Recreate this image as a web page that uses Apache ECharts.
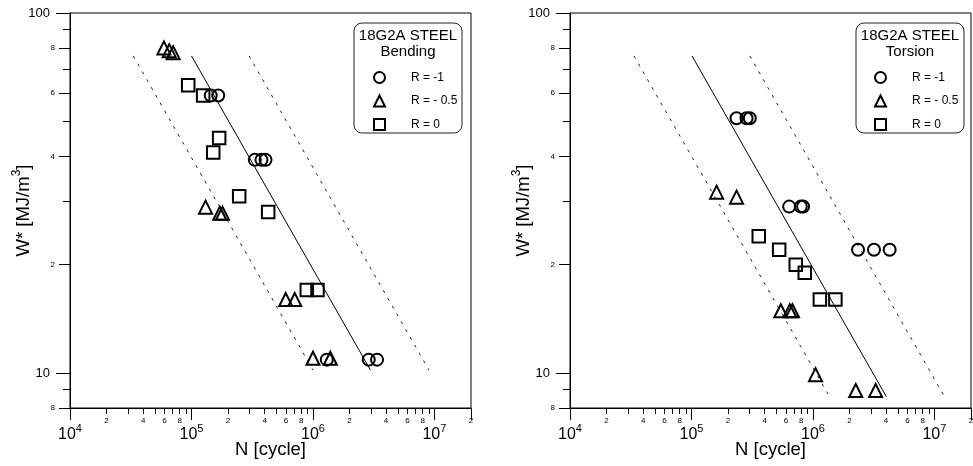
<!DOCTYPE html>
<html><head><meta charset="utf-8">
<script src="https://cdn.jsdelivr.net/npm/echarts@6/dist/echarts.min.js"></script>
<style>html,body{margin:0;padding:0;background:#fff}#c{width:973px;height:466px}</style>
</head><body><div id="c"></div>
<script>
// ---- axis tick / label values ----
const xMajorTicks = [1e4, 1e5, 1e6, 1e7, 2e7];
const xMajorLabels = [1e4, 1e5, 1e6, 1e7];
const xMinorTicks = [2e4,3e4,4e4,5e4,6e4,7e4,8e4,9e4, 2e5,3e5,4e5,5e5,6e5,7e5,8e5,9e5, 2e6,3e6,4e6,5e6,6e6,7e6,8e6,9e6];
const xMinorLabels = [2e4,4e4,6e4,8e4, 2e5,4e5,6e5,8e5, 2e6,4e6,6e6,8e6, 2e7];
const yMajorTicks = [10, 100];
const yMinorLabeled = [8, 20, 40, 60, 80];
const yMinorPlain = [9, 30, 50, 70, 90];

const seriesNames = ['R = -1', 'R = - 0.5', 'R = 0'];

// ---- Bending data [N, W*] ----
const bendR1 = [[144000,59],[166000,59],[332000,39.1],[377000,39.1],[407000,39.1],[1.30e6,10.9],[2.88e6,10.9],[3.37e6,10.9]];
const bendR05 = [[59300,80],[65600,78.6],[70700,77.6],[130600,28.9],[171000,27.8],[180000,27.8],[597000,16.0],[708000,16.0],[1.0e6,11.0],[1.39e6,11.0]];
const bendR0 = [[94000,63],[124800,59],[169000,45],[151000,41],[247000,31],[428000,28],[890000,17],[1090000,17]];
const bendFit = [[1.0e5,76],[2.97e6,10.2]];
const bendLow = [[33200,76],[1.0e6,10.2]];
const bendHigh = [[298000,76],[9.0e6,10.2]];

// ---- Torsion data [N, W*] ----
const torR1 = [[235000,51],[284000,51],[302000,51],[637000,29],[794000,29],[830000,29],[2.35e6,22],[3.18e6,22],[4.28e6,22]];
const torR05 = [[161000,31.8],[235000,30.8],[544000,14.9],[645000,14.9],[678000,14.9],[1.05e6,9.9],[2.25e6,8.95],[3.28e6,8.95]];
const torR0 = [[358000,24],[527000,22],[722000,20],[856000,19],[1.14e6,16],[1.53e6,16]];
const torFit = [[1.01e5,76],[4.02e6,8.6]];
const torLow = [[33600,76],[1.33e6,8.75]];
const torHigh = [[302000,76],[1.21e7,8.6]];

const FF = "'Liberation Sans', Arial, sans-serif";
const lead = v => String(Math.round(v / Math.pow(10, Math.floor(Math.log10(v) + 1e-9))));

function xAxesFor(gi) {
  return [
    { type:'log', logBase:10, gridIndex:gi, min:1e4, max:2e7, position:'bottom',
      axisLine:{show:true, onZero:false, lineStyle:{color:'#000', width:1}},
      axisTick:{show:true, length:12, customValues:xMajorTicks, lineStyle:{color:'#000', width:1}},
      axisLabel:{show:true, customValues:xMajorLabels, margin:15,
        formatter: v => '{b|10}{s|' + Math.round(Math.log10(v)) + '}',
        rich:{ b:{fontSize:16, lineHeight:20, verticalAlign:'bottom', fontFamily:FF, color:'#000'},
               s:{fontSize:11, verticalAlign:'top', fontFamily:FF, color:'#000'} } },
      splitLine:{show:false}, minorTick:{show:false},
      name:'N [cycle]', nameLocation:'middle', nameGap:32, nameMoveOverlap:false,
      nameTextStyle:{fontSize:18.5, color:'#000', fontFamily:FF} },
    { type:'log', logBase:10, gridIndex:gi, min:1e4, max:2e7, position:'bottom',
      axisLine:{show:false, onZero:false},
      axisTick:{show:true, length:6, customValues:xMinorTicks, lineStyle:{color:'#000', width:1}},
      axisLabel:{show:true, customValues:xMinorLabels, margin:9, fontSize:8, color:'#000', fontFamily:FF, formatter:lead},
      splitLine:{show:false}, minorTick:{show:false} }
  ];
}
function yAxesFor(gi) {
  return [
    { type:'log', logBase:10, gridIndex:gi, min:8, max:100, position:'left',
      axisLine:{show:true, onZero:false, lineStyle:{color:'#000', width:1}},
      axisTick:{show:true, length:14, customValues:yMajorTicks, lineStyle:{color:'#000', width:1}},
      axisLabel:{show:true, customValues:yMajorTicks, margin:20, fontSize:13, color:'#000', fontFamily:FF, formatter: v => String(Math.round(v))},
      splitLine:{show:false}, minorTick:{show:false},
      name:'{a|W* [MJ/m}{s|3}{a|]}', nameLocation:'middle', nameGap:37, nameMoveOverlap:false,
      nameTextStyle:{ rich:{ a:{fontSize:18.5, lineHeight:22, verticalAlign:'bottom', color:'#000', fontFamily:FF},
                             s:{fontSize:12, verticalAlign:'top', color:'#000', fontFamily:FF} } } },
    { type:'log', logBase:10, gridIndex:gi, min:8, max:100, position:'left',
      axisLine:{show:false, onZero:false},
      axisTick:{show:true, length:11, customValues:yMinorLabeled, lineStyle:{color:'#000', width:1}},
      axisLabel:{show:true, customValues:yMinorLabeled, margin:15, fontSize:8, color:'#000', fontFamily:FF, formatter:lead},
      splitLine:{show:false}, minorTick:{show:false} },
    { type:'log', logBase:10, gridIndex:gi, min:8, max:100, position:'left',
      axisLine:{show:false, onZero:false},
      axisTick:{show:true, length:7, customValues:yMinorPlain, lineStyle:{color:'#000', width:1}},
      axisLabel:{show:false},
      splitLine:{show:false}, minorTick:{show:false} }
  ];
}

const markStyle = {color:'rgba(0,0,0,0)', borderColor:'#000', borderWidth:2, opacity:1};
function scatter(name, data, symbol, size, xi, yi) {
  return { type:'scatter', name, data, symbol, symbolSize:size, xAxisIndex:xi, yAxisIndex:yi,
           itemStyle:markStyle, emphasis:{disabled:true}, z:3 };
}
function line(data, dashed, xi, yi) {
  return { type:'line', data, xAxisIndex:xi, yAxisIndex:yi, showSymbol:false, symbol:'none', silent:true,
           lineStyle:{color: dashed ? '#222' : '#000', width:1, type: dashed ? [3,6] : 'solid'}, z:2 };
}

const legendBase = {
  data: seriesNames, orient:'vertical', top:71, itemWidth:11, itemHeight:11, itemGap:10.5,
  selectedMode:false, padding:0,
  textStyle:{fontSize:12, color:'#000', fontFamily:FF, padding:[0,0,0,21]}
};

const option = {
  animation:false,
  backgroundColor:'#fff',
  grid:[
    {left:70, top:13, width:401, height:395, show:true, borderColor:'#000', borderWidth:1, containLabel:false, outerBoundsMode:'none'},
    {left:570, top:13, width:401, height:395, show:true, borderColor:'#000', borderWidth:1, containLabel:false, outerBoundsMode:'none'}
  ],
  xAxis: [...xAxesFor(0), ...xAxesFor(1)],
  yAxis: [...yAxesFor(0), ...yAxesFor(1)],
  legend:[ Object.assign({left:373}, legendBase), Object.assign({left:874}, legendBase) ],
  graphic:[
    {type:'rect', shape:{x:354, y:23, width:108, height:110, r:8}, style:{fill:'none', stroke:'#222', lineWidth:1}, silent:true},
    {type:'text', x:408, y:36, style:{text:'18G2A STEEL', fontSize:15, fontFamily:FF, fill:'#000', align:'center', verticalAlign:'middle'}, silent:true},
    {type:'text', x:408, y:52, style:{text:'Bending', fontSize:15, fontFamily:FF, fill:'#000', align:'center', verticalAlign:'middle'}, silent:true},
    {type:'rect', shape:{x:856, y:23, width:108, height:110, r:8}, style:{fill:'none', stroke:'#222', lineWidth:1}, silent:true},
    {type:'text', x:910, y:36, style:{text:'18G2A STEEL', fontSize:15, fontFamily:FF, fill:'#000', align:'center', verticalAlign:'middle'}, silent:true},
    {type:'text', x:910, y:52, style:{text:'Torsion', fontSize:15, fontFamily:FF, fill:'#000', align:'center', verticalAlign:'middle'}, silent:true}
  ],
  series:[
    line(bendFit, false, 0, 0), line(bendLow, true, 0, 0), line(bendHigh, true, 0, 0),
    scatter(seriesNames[0], bendR1, 'circle', 12, 0, 0),
    scatter(seriesNames[1], bendR05, 'triangle', 13, 0, 0),
    scatter(seriesNames[2], bendR0, 'rect', 12.5, 0, 0),
    line(torFit, false, 2, 3), line(torLow, true, 2, 3), line(torHigh, true, 2, 3),
    scatter(seriesNames[0], torR1, 'circle', 12, 2, 3),
    scatter(seriesNames[1], torR05, 'triangle', 13, 2, 3),
    scatter(seriesNames[2], torR0, 'rect', 12.5, 2, 3)
  ]
};
const chart = echarts.init(document.getElementById('c'), null, {renderer:'canvas'});
chart.setOption(option);
</script>
</body></html>
